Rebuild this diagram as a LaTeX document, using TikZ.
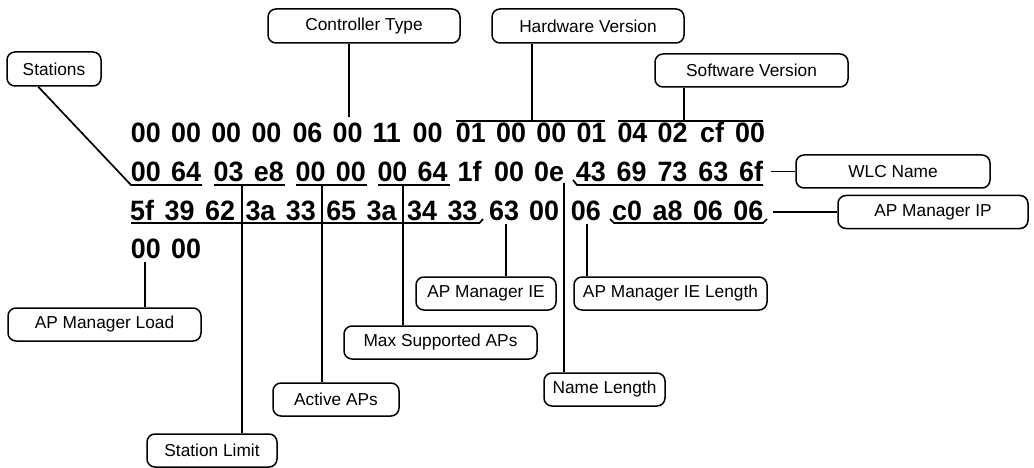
\documentclass[tikz,border=0pt]{standalone}
\usepackage{fontspec}
\setmainfont{Liberation Sans}
\newfontfamily\hexfont{Liberation Sans}[FakeStretch=0.96]
\begin{document}
\begin{tikzpicture}[x=1pt,y=1pt,
  hex/.style={font=\hexfont\fontsize{28}{30}\selectfont\bfseries, inner sep=0pt, anchor=base west},
  tag/.style={draw, line width=1.5pt, rounded corners=8pt, minimum height=33pt,
              inner sep=0pt, font=\fontsize{17.3}{20}\selectfont},
  lead/.style={line width=1.7pt},
]
\useasboundingbox (0,0) rectangle (1034,-468);

% ---- the four rows of bytes ----
\foreach \t/\x [count=\i from 0] in {00/130.7,00/170.9,00/211.1,00/251.3,06/292.3,00/332.5,11/372.3,00/412.5,
                                     01/455.7,00/495.9,00/536.1,01/576.3,04/617.3,02/657.5,cf/700,00/735}
  \node[hex] (ra\i) at (\x,-143) {\t};
\foreach \t/\x [count=\i from 0] in {00/130.7,64/170.9,03/213.5,e8/253.7,00/295.5,00/335.7,00/377.3,64/417.5,
                                     1f/457.5,00/494,0e/534,43/575.7,69/616.5,73/657.3,63/698.1,6f/738.9}
  \node[hex] (rb\i) at (\x,-182) {\t};
\foreach \t/\x [count=\i from 0] in {5f/130,39/164.5,62/204.9,3a/245.3,33/285.7,65/326.1,3a/366.5,34/406.9,
                                     33/447.3,63/489,00/529,06/570.7,c0/612,a8/652.4,06/692.8,06/733.2}
  \node[hex] (rc\i) at (\x,-220) {\t};
\foreach \t/\x [count=\i from 0] in {00/130.7,00/170.9}
  \node[hex] (rd\i) at (\x,-258) {\t};

% ---- field labels ----
\node[tag, minimum width=192pt, minimum height=34pt] (ctype)    at (364,-26)     {Controller Type};
\node[tag, minimum width=192pt, minimum height=34pt] (hw)       at (588,-26)     {Hardware Version};
\node[tag, minimum width=193pt]                      (sw)       at (751.5,-70.5) {Software Version};
\node[tag, minimum width=94pt, minimum height=34pt]  (stations) at (54,-69)      {Stations};
\node[tag, minimum width=194pt]                      (wlc)      at (893,-171.5)  {WLC Name};
\node[tag, minimum width=190pt]                      (apip)     at (933,-212)    {AP Manager IP};
\node[tag, minimum width=140pt]                      (apie)     at (486,-293.5)  {AP Manager IE};
\node[tag, minimum width=193pt]                      (apiel)    at (670.5,-293.5){AP Manager IE Length};
\node[tag, minimum width=193pt]                      (apload)   at (104.5,-324.5){AP Manager Load};
\node[tag, minimum width=193pt]                      (maxap)    at (440.5,-342.5){Max Supported APs};
\node[tag, minimum width=126pt]                      (active)   at (336,-399.5)  {Active APs};
\node[tag, minimum width=121pt]                      (namelen)  at (604.5,-389.5){Name Length};
\node[tag, minimum width=130pt]                      (stlimit)  at (212,-450.5)  {Station Limit};

% ---- bracket end points and taps ----
\coordinate (ctTap) at (349,-117);
\coordinate (hwL) at (456,-121);   \coordinate (hwR) at (605,-121);   \coordinate (hwTap) at (532,-121);
\coordinate (swL) at (618,-121);   \coordinate (swR) at (763,-121);   \coordinate (swTap) at (684,-121);
\coordinate (stTop) at ([xshift=32pt]stations.south west);
\coordinate (stL) at (131,-185);   \coordinate (stR) at (202,-185);
\coordinate (slL) at (214,-185);   \coordinate (slR) at (285,-185);   \coordinate (slTap) at (242,-185);
\coordinate (acL) at (296,-185);   \coordinate (acR) at (367,-185);   \coordinate (acTap) at (322,-185);
\coordinate (mxL) at (378,-185);   \coordinate (mxR) at (450,-185);   \coordinate (mxTap) at (403,-185);
\coordinate (wnA) at (573,-180);   \coordinate (wnB) at (577,-185);   \coordinate (wnC) at (763,-185);
\coordinate (wnEnd) at (771,-171.5);
\coordinate (wmA) at (131,-223);   \coordinate (wmB) at (479.5,-223); \coordinate (wmC) at (483,-219);
\coordinate (nlTap) at (564,-183);
\coordinate (ieTap) at (506,-224);
\coordinate (ilTap) at (587,-224);
\coordinate (ipA) at (610,-219);   \coordinate (ipB) at (614,-223);   \coordinate (ipC) at (763,-223);
\coordinate (ipD) at (767,-219);   \coordinate (ipEnd) at (773,-212);
\coordinate (ldTap) at (145,-262);

% ---- connectors ----
\draw[lead] (ctype.south -| ctTap) -- (ctTap);
\draw[lead] (hwL) -- (hwR);  \draw[lead] (hw.south -| hwTap) -- (hwTap);
\draw[lead] (swL) -- (swR);  \draw[lead] (sw.south -| swTap) -- (swTap);
\draw[lead] (stTop) -- (stL) -- (stR);
\draw[lead] (slL) -- (slR);  \draw[lead] (slTap) -- (slTap |- stlimit.north);
\draw[lead] (acL) -- (acR);  \draw[lead] (acTap) -- (acTap |- active.north);
\draw[lead] (mxL) -- (mxR);  \draw[lead] (mxTap) -- (mxTap |- maxap.north);
\draw[lead] (wnA) -- (wnB) -- (wnC);
\draw[lead] (wnEnd) -- (wlc.west);
\draw[lead] (wmA) -- (wmB) -- (wmC);
\draw[lead] (nlTap) -- (nlTap |- namelen.north);
\draw[lead] (ieTap) -- (ieTap |- apie.north);
\draw[lead] (ilTap) -- (ilTap |- apiel.north);
\draw[lead] (ipA) -- (ipB) -- (ipC) -- (ipD);
\draw[lead] (ipEnd) -- (apip.west);
\draw[lead] (ldTap) -- (ldTap |- apload.north);
\end{tikzpicture}
\end{document}
